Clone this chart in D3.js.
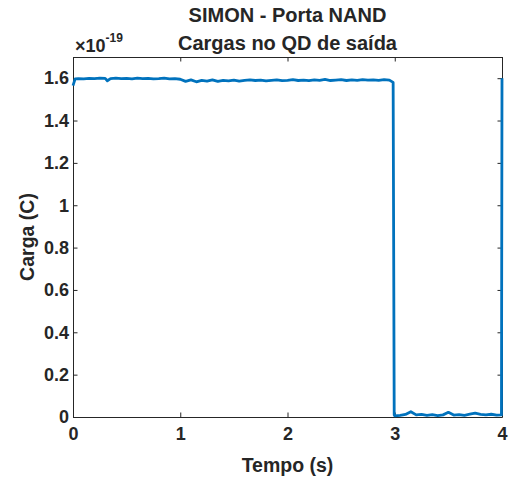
<!DOCTYPE html>
<html>
<head>
<meta charset="utf-8">
<script src="https://cdn.jsdelivr.net/npm/d3@7"></script>
<style>
  body { margin: 0; background: #fff; }
  text { font-family: "Liberation Sans", Arial, sans-serif; font-weight: bold; fill: #262626; }
</style>
</head>
<body>
<div id="chart"></div>
<script>
// valores (carga em unidades de 1e-19 C)
var tempo = [0, 0.02, 0.05, 0.1, 0.15, 0.2, 0.25, 0.3, 0.32, 0.35, 0.4, 0.45, 0.5, 0.55, 0.6, 0.65, 0.7, 0.75, 0.8, 0.85, 0.9, 0.95,
  1.0, 1.05, 1.1, 1.15, 1.2, 1.25, 1.3, 1.35, 1.4, 1.45, 1.5, 1.55, 1.6, 1.65, 1.7, 1.75, 1.8, 1.85, 1.9, 1.95,
  2.0, 2.05, 2.1, 2.15, 2.2, 2.25, 2.3, 2.35, 2.4, 2.45, 2.5, 2.55, 2.6, 2.65, 2.7, 2.75, 2.8, 2.85, 2.9, 2.95, 2.985,
  2.995, 3.0, 3.05, 3.1, 3.15, 3.2, 3.25, 3.3, 3.35, 3.4, 3.45, 3.5, 3.55, 3.6, 3.65, 3.7, 3.75, 3.8, 3.85, 3.9, 3.95, 3.995, 4.0];
var carga = [1.565, 1.597, 1.598, 1.597, 1.599, 1.598, 1.600, 1.599, 1.588, 1.598, 1.600, 1.598, 1.599, 1.597, 1.600, 1.598, 1.599, 1.597, 1.598, 1.600, 1.597, 1.598,
  1.595, 1.585, 1.592, 1.583, 1.590, 1.586, 1.592, 1.585, 1.590, 1.587, 1.591, 1.586, 1.590, 1.592, 1.589, 1.591, 1.587, 1.590, 1.592, 1.588,
  1.590, 1.593, 1.589, 1.591, 1.588, 1.592, 1.590, 1.594, 1.589, 1.591, 1.593, 1.589, 1.592, 1.590, 1.593, 1.591, 1.592, 1.590, 1.593, 1.591, 1.580,
  0.010, 0.005, 0.008, 0.012, 0.025, 0.010, 0.012, 0.008, 0.011, 0.007, 0.010, 0.022, 0.009, 0.011, 0.008, 0.013, 0.018, 0.012, 0.010, 0.013, 0.009, 0.010, 1.600];
var xTicks = [0, 1, 2, 3, 4];
var yTicks = [0, 0.2, 0.4, 0.6, 0.8, 1, 1.2, 1.4, 1.6];

var width = 509, height = 477;
var margin = {left: 73, right: 7, top: 57, bottom: 60};
var x0 = margin.left, x1 = width - margin.right;
var y0 = height - margin.bottom, y1 = margin.top;

var svg = d3.select('#chart').append('svg')
  .attr('width', width)
  .attr('height', height);

var x = d3.scaleLinear().domain([0, 4]).range([x0, x1]);
var y = d3.scaleLinear().domain([0, 1.7]).range([y0, y1]);

var tick = 4.5;

// eixos (estilo matlab, ticks para dentro)
svg.append('g').attr('transform', 'translate(0,' + y0 + ')')
  .call(d3.axisBottom(x).tickValues(xTicks).tickSizeInner(-tick).tickSizeOuter(0).tickPadding(10).tickFormat(d3.format('d')));
svg.append('g').attr('transform', 'translate(0,' + y1 + ')')
  .call(d3.axisTop(x).tickValues(xTicks).tickSizeInner(-tick).tickSizeOuter(0).tickFormat(''));
svg.append('g').attr('transform', 'translate(' + x0 + ',0)')
  .call(d3.axisLeft(y).tickValues(yTicks).tickSizeInner(-tick).tickSizeOuter(0).tickPadding(4).tickFormat(function(d) { return d; }));
svg.append('g').attr('transform', 'translate(' + x1 + ',0)')
  .call(d3.axisRight(y).tickValues(yTicks).tickSizeInner(-tick).tickSizeOuter(0).tickFormat(''));

svg.selectAll('.domain, .tick line').attr('stroke', '#262626');
svg.selectAll('.tick text').attr('font-size', 18).attr('fill', '#262626')
  .attr('font-family', '"Liberation Sans", Arial, sans-serif').attr('font-weight', 'bold');

// linha
var line = d3.line()
  .x(function(d, i) { return x(tempo[i]); })
  .y(function(d) { return y(d); });

svg.append('path')
  .datum(carga)
  .attr('d', line)
  .attr('fill', 'none')
  .attr('stroke', '#0072BD')
  .attr('stroke-width', 2.8)
  .attr('stroke-linejoin', 'round');

// titulo e rotulos
svg.append('text').attr('x', (x0 + x1) / 2).attr('y', 22).attr('text-anchor', 'middle')
  .attr('font-size', 20).text('SIMON - Porta NAND');
svg.append('text').attr('x', (x0 + x1) / 2).attr('y', 50).attr('text-anchor', 'middle')
  .attr('font-size', 20).text('Cargas no QD de saída');

svg.append('text').attr('x', (x0 + x1) / 2).attr('y', 472).attr('text-anchor', 'middle')
  .attr('font-size', 19.5).text('Tempo (s)');
svg.append('text').attr('transform', 'translate(34,' + ((y0 + y1) / 2) + ') rotate(-90)')
  .attr('text-anchor', 'middle').attr('font-size', 19.5).text('Carga (C)');

// expoente
var ex = svg.append('text').attr('x', 75).attr('y', 52).attr('font-size', 18).attr('font-weight', 'normal');
ex.append('tspan').text('×10');
ex.append('tspan').attr('dy', -10).attr('font-size', 12).text('-19');
</script>
</body>
</html>
